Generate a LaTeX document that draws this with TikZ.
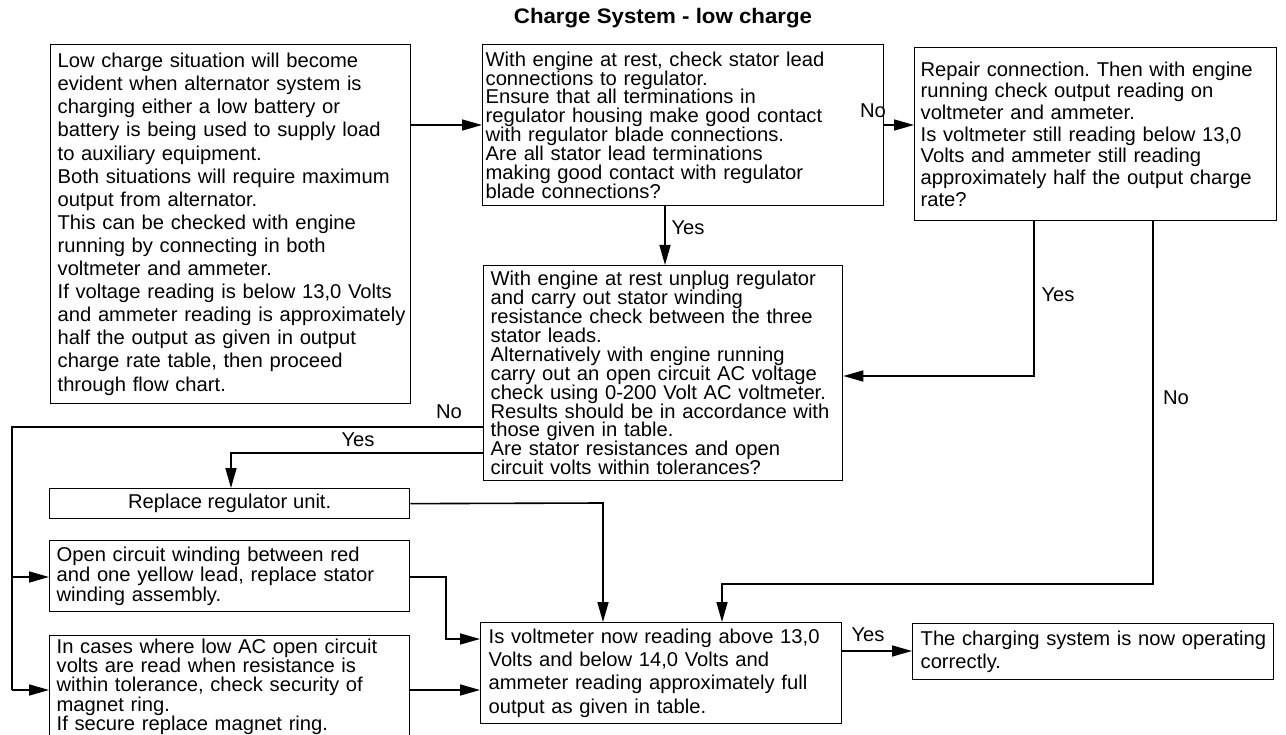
\documentclass[tikz,border=0pt]{standalone}
\usepackage{fontspec}
\setmainfont{Liberation Sans}[FakeStretch=1.01]
\newfontfamily\titlefont{Liberation Sans}[FakeStretch=1.06]
\usetikzlibrary{arrows.meta}
\frenchspacing
\newcommand\lns[1]{\noindent\vbox{\lineskiplimit=-100pt\lineskip=0pt\let\\=\cr\halign{##\hfil\cr#1\crcr}}}
\begin{document}
\begin{tikzpicture}[x=1pt,y=-1pt,
  box/.style={draw, line width=1.3pt, anchor=north west, inner ysep=0pt, inner xsep=7pt, align=left},
  conn/.style={line width=1.6pt, -{Triangle[length=20pt,width=11pt]}},
  plain/.style={line width=1.6pt},
  lbl/.style={font=\fontsize{20}{20}\selectfont, inner sep=0pt}]
\useasboundingbox (0,0) rectangle (1286,735);

\node[font=\titlefont\fontsize{21}{21}\selectfont\bfseries, inner sep=0pt] (title) at (663,18) {Charge System - low charge};

\node[box, text width=346pt, minimum height=359pt, font=\fontsize{20}{23.1}\selectfont] (A) at (50,44) {\lns{%
Low charge situation will become\\
evident when alternator system is\\
charging either a low battery or\\
battery is being used to supply load\\
to auxiliary equipment.\\
Both situations will require maximum\\
output from alternator.\\
This can be checked with engine\\
running by connecting in both\\
voltmeter and ammeter.\\
If voltage reading is below 13,0 Volts\\
and ammeter reading is approximately\\
half the output as given in output\\
charge rate table, then proceed\\
through flow chart.}};

\node[box, inner xsep=3pt, text width=395pt, minimum height=161pt, font=\fontsize{20}{18.9}\selectfont] (B) at (482,44) {\lns{%
With engine at rest, check stator lead\\
connections to regulator.\\
Ensure that all terminations in\\
regulator housing make good contact\\
with regulator blade connections.\\
Are all stator lead terminations\\
making good contact with regulator\\
blade connections?}};

\node[box, inner xsep=6pt, text width=350pt, minimum height=173pt, font=\fontsize{20}{21.7}\selectfont] (C) at (914,47) {\lns{%
Repair connection. Then with engine\\
running check output reading on\\
voltmeter and ammeter.\\
Is voltmeter still reading below 13,0\\
Volts and ammeter still reading\\
approximately half the output charge\\
rate?}};

\node[box, text width=345pt, minimum height=215pt, font=\fontsize{20}{18.9}\selectfont] (D) at (483,265) {\lns{%
With engine at rest unplug regulator\\
and carry out stator winding\\
resistance check between the three\\
stator leads.\\
Alternatively with engine running\\
carry out an open circuit AC voltage\\
check using 0-200 Volt AC voltmeter.\\
Results should be in accordance with\\
those given in table.\\
Are stator resistances and open\\
circuit volts within tolerances?}};

\node[box, inner xsep=0pt, minimum width=360pt, minimum height=30pt, align=center, font=\fontsize{20}{20}\selectfont] (E) at (49,488) {Replace regulator unit.};

\node[box, text width=346pt, minimum height=71pt, font=\fontsize{20}{20}\selectfont] (F) at (49,540) {\lns{%
Open circuit winding between red\\
and one yellow lead, replace stator\\
winding assembly.}};

\node[box, text width=346pt, minimum height=102pt, font=\fontsize{20}{19.2}\selectfont] (G) at (49,635) {\lns{%
In cases where low AC open circuit\\
volts are read when resistance is\\
within tolerance, check security of\\
magnet ring.\\
If secure replace magnet ring.}};

\node[box, inner xsep=8pt, text width=345pt, minimum height=101pt, font=\fontsize{20}{23.3}\selectfont] (H) at (480,622) {\lns{%
Is voltmeter now reading above 13,0\\
Volts and below 14,0 Volts and\\
ammeter reading approximately full\\
output as given in table.}};

\node[box, inner xsep=8pt, text width=345pt, minimum height=56pt, font=\fontsize{20}{23.3}\selectfont] (I) at (912,623) {\lns{%
The charging system is now operating\\
correctly.}};

% connectors
\draw[conn] (A.east |- 0,125) -- (B.west |- 0,125);
\draw[conn] (B.east |- 0,125) -- (C.west |- 0,125);
\node[lbl] (lNo1) at (873,111) {No};

\draw[conn] (B.south -| 665,0) -- (D.north -| 665,0);
\node[lbl] (lYes1) at (688,228) {Yes};

\draw[conn] (C.south -| 1034,0) -- (1034,376) -- (D.east |- 0,376);
\node[lbl] (lYes2) at (1058,295) {Yes};

\draw[conn] (C.south -| 1153,0) -- (1153,584) -- (722,584) -- (H.north -| 722,0);
\node[lbl] (lNo2) at (1176,398) {No};

\coordinate (tr1) at (12,577);
\coordinate (tr2) at (12,690);
\draw[plain] (D.west |- 0,427) -- (12,427) -- (tr2);
\draw[conn] (tr1) -- (F.west |- tr1);
\draw[conn] (tr2) -- (G.west |- tr2);
\node[lbl] (lNo3) at (449,412) {No};

\draw[conn] (D.west |- 0,453) -- (231,453) -- (E.north -| 231,0);
\node[lbl] (lYes3) at (358,440) {Yes};

\draw[conn] (E.east) -- (603,503) -- (H.north -| 603,0);
\draw[conn] (F.east |- 0,577) -- (446,577) -- (446,639) -- (H.west |- 0,639);
\draw[conn] (G.east |- 0,690) -- (H.west |- 0,690);

\draw[conn] (H.east |- 0,651) -- (I.west |- 0,651);
\node[lbl] (lYes4) at (868,635) {Yes};
\end{tikzpicture}
\end{document}
